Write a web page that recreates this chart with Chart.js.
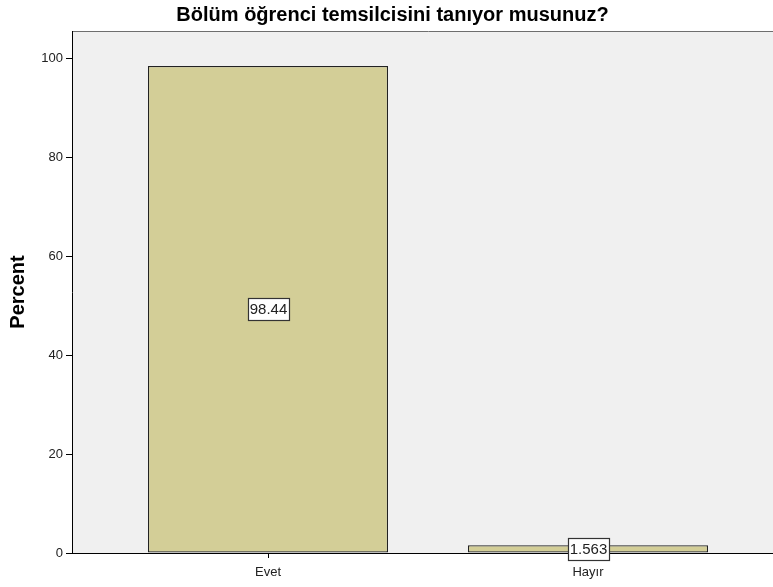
<!DOCTYPE html>
<html>
<head>
<meta charset="utf-8">
<script src="https://cdn.jsdelivr.net/npm/chart.js@4.4.0/dist/chart.umd.min.js"></script>
<style>
  html, body { margin: 0; padding: 0; background: #fff; overflow: hidden; }
  #wrap { width: 785px; height: 587px; }
</style>
</head>
<body>
<div id="wrap"><canvas id="chart" width="785" height="587"></canvas></div>
<script>
var categories = ['Evet', 'Hayır'];
var percentValues = [98.44, 1.563];
var yTicks = [0, 20, 40, 60, 80, 100];
var chartTitle = 'Bölüm öğrenci temsilcisini tanıyor musunuz?';
var yTitle = 'Percent';

var FONT = 'Arial, "Liberation Sans", sans-serif';

// gray plot background + top border
var plotBg = {
    id: 'plotBg',
    beforeDraw: function(chart) {
        var a = chart.chartArea;
        var ctx = chart.ctx;
        ctx.save();
        ctx.fillStyle = '#f0f0f0';
        ctx.fillRect(a.left, a.top, a.right - a.left, a.bottom - a.top);
        ctx.strokeStyle = '#6e6e6e';
        ctx.lineWidth = 1;
        ctx.beginPath();
        ctx.moveTo(a.left, a.top + 0.5);
        ctx.lineTo(a.right, a.top + 0.5);
        ctx.stroke();
        ctx.restore();
    }
};

// value boxes in the middle of each bar
var valueBoxes = {
    id: 'valueBoxes',
    afterDatasetsDraw: function(chart) {
        var ctx = chart.ctx;
        var meta = chart.getDatasetMeta(0);
        ctx.save();
        ctx.font = '15px ' + FONT;
        ctx.textAlign = 'center';
        ctx.textBaseline = 'middle';
        meta.data.forEach(function(bar, i) {
            var txt = String(percentValues[i]);
            var cy = (bar.y + bar.base) / 2;
            var w = Math.round(ctx.measureText(txt).width + 3);
            var h = 22;
            var x0 = Math.round(bar.x - w / 2) + 0.5;
            var y0 = Math.round(cy - h / 2) + 0.5;
            ctx.fillStyle = '#ffffff';
            ctx.fillRect(x0, y0, w, h);
            ctx.strokeStyle = '#333333';
            ctx.lineWidth = 1.2;
            ctx.strokeRect(x0, y0, w, h);
            ctx.fillStyle = '#222222';
            ctx.fillText(txt, bar.x + 0.5, cy + 1);
        });
        ctx.restore();
    }
};

new Chart(document.getElementById('chart'), {
    type: 'bar',
    data: {
        datasets: [{
            data: categories.map(function(c, i) { return { x: i + 1, y: percentValues[i] }; }),
            backgroundColor: '#d3ce97',
            borderColor: '#222222',
            borderWidth: 1.2,
            borderSkipped: false,
            barPercentage: 0.75,
            categoryPercentage: 1
        }]
    },
    options: {
        responsive: false,
        animation: false,
        layout: { padding: 0 },
        plugins: {
            legend: { display: false },
            tooltip: { enabled: false },
            title: {
                display: true,
                text: chartTitle,
                color: '#000',
                font: { family: FONT, size: 20, weight: 'bold' },
                padding: { top: 3, bottom: 4 }
            }
        },
        scales: {
            x: {
                type: 'linear',
                offset: false,
                min: 0.3875,
                max: 2.6156,
                afterBuildTicks: function(scale) {
                    scale.ticks = categories.map(function(c, i) { return { value: i + 1 }; });
                },
                afterFit: function(scale) { scale.height = 34; },
                ticks: {
                    autoSkip: false,
                    maxRotation: 0,
                    padding: 7,
                    color: '#222',
                    font: { family: FONT, size: 13 },
                    callback: function(v) { return categories[v - 1]; }
                },
                grid: { offset: false, drawOnChartArea: false, tickLength: 5, tickColor: '#000' },
                border: { color: '#000', width: 1 }
            },
            y: {
                min: 0,
                max: 105.5,
                afterBuildTicks: function(scale) {
                    scale.ticks = yTicks.map(function(v) { return { value: v }; });
                },
                afterFit: function(scale) { scale.width = 72; },
                ticks: {
                    padding: 3,
                    color: '#222',
                    font: { family: FONT, size: 13 }
                },
                grid: { drawOnChartArea: false, tickLength: 6, tickColor: '#000' },
                border: { color: '#000', width: 1 },
                title: {
                    display: true,
                    text: yTitle,
                    color: '#000',
                    font: { family: FONT, size: 20, weight: 'bold' },
                    padding: { top: 6, bottom: 0 }
                }
            }
        }
    },
    plugins: [plotBg, valueBoxes]
});
</script>
</body>
</html>
